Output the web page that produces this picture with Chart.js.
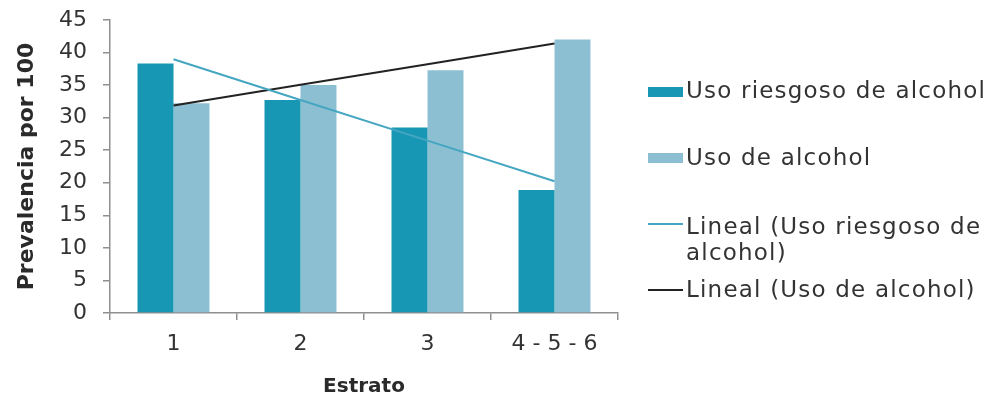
<!DOCTYPE html>
<html>
<head>
<meta charset="utf-8">
<title>Prevalencia por estrato</title>
<script src="https://cdn.jsdelivr.net/npm/chart.js@4.4.0/dist/chart.umd.min.js"></script>
<style>
  html, body { margin: 0; padding: 0; background: #fff; }
  body { width: 984px; height: 403px; overflow: hidden; position: relative;
         font-family: "DejaVu Sans", sans-serif; }
  #c { position: absolute; left: 0; top: 0; }
  .key { position: absolute; left: 648px; width: 35px; }
  .txt { position: absolute; left: 686px; font-size: 23px; line-height: 26px;
         letter-spacing: 1.2px; color: #333333; white-space: nowrap; }
</style>
</head>
<body>
<canvas id="c" width="984" height="403"></canvas>
<div id="legend"></div>
<script>
// Estratos socioeconómicos (eje X)
const categories = ['1', '2', '3', '4 - 5 - 6'];

// Prevalencia por 100 en cada estrato
const usoRiesgoso = [38.3, 32.7, 28.5, 18.9];
const usoAlcohol  = [32.2, 35.0, 37.3, 42.0];

// Marcas del eje Y
const yTicks = [0, 5, 10, 15, 20, 25, 30, 35, 40, 45];

const seriesLabels = ['Uso riesgoso de alcohol', 'Uso de alcohol'];
const trendLabels  = ['Lineal (Uso riesgoso de alcohol)', 'Lineal (Uso de alcohol)'];

// Línea de tendencia lineal (mínimos cuadrados) sobre las categorías 1..n
function linearTrend(values) {
  const n = values.length;
  const xs = values.map((_, i) => i + 1);
  const mx = xs.reduce((a, b) => a + b, 0) / n;
  const my = values.reduce((a, b) => a + b, 0) / n;
  let sxy = 0, sxx = 0;
  xs.forEach((x, i) => { sxy += (x - mx) * (values[i] - my); sxx += (x - mx) * (x - mx); });
  const slope = sxy / sxx;
  const intercept = my - slope * mx;
  return xs.map(x => intercept + slope * x);
}

const COLORS = {
  riesgoso: '#1897b5',
  alcohol: '#8dbfd2',
  trendRiesgoso: '#45a6c2',
  trendAlcohol: '#222222',
  axis: '#8f8f8f',
  text: '#333333'
};

Chart.defaults.font.family = "'DejaVu Sans', sans-serif";
Chart.defaults.color = COLORS.text;

const chart = new Chart(document.getElementById('c'), {
  type: 'bar',
  data: {
    labels: categories,
    datasets: [
      { label: seriesLabels[0], data: usoRiesgoso, backgroundColor: COLORS.riesgoso,
        categoryPercentage: 0.567, barPercentage: 1.0, order: 2 },
      { label: seriesLabels[1], data: usoAlcohol, backgroundColor: COLORS.alcohol,
        categoryPercentage: 0.567, barPercentage: 1.0, order: 2 },
      { type: 'line', label: trendLabels[0], data: linearTrend(usoRiesgoso),
        borderColor: COLORS.trendRiesgoso, borderWidth: 2, pointRadius: 0, fill: false, order: 1 },
      { type: 'line', label: trendLabels[1], data: linearTrend(usoAlcohol),
        borderColor: COLORS.trendAlcohol, borderWidth: 2, pointRadius: 0, fill: false, order: 1 }
    ]
  },
  options: {
    responsive: false,
    animation: false,
    layout: { padding: { top: 20, right: 366, bottom: 0, left: 0 } },
    plugins: { legend: { display: false }, tooltip: { enabled: false } },
    scales: {
      x: {
        offset: true,
        grid: { offset: true, drawOnChartArea: false, drawTicks: true, tickLength: 7,
                color: COLORS.axis, lineWidth: 1.5 },
        border: { color: COLORS.axis, width: 1.5 },
        ticks: { font: { size: 22 }, color: COLORS.text, padding: 11, maxRotation: 0 },
        title: { display: true, text: 'Estrato', color: '#2a2a2a',
                 font: { size: 20, weight: 'bold' }, padding: { top: 0, bottom: 4 } },
        afterFit(scale) { scale.height = 90; scale.paddingLeft = 0; scale.paddingRight = 0; }
      },
      y: {
        min: yTicks[0], max: yTicks[yTicks.length - 1],
        afterBuildTicks(scale) { scale.ticks = yTicks.map(v => ({ value: v })); },
        grid: { drawOnChartArea: false, drawTicks: true, tickLength: 7,
                color: COLORS.axis, lineWidth: 1.5 },
        border: { color: COLORS.axis, width: 1.5 },
        ticks: { font: { size: 22 }, color: COLORS.text, padding: 16 },
        title: { display: true, text: 'Prevalencia por 100', color: '#2a2a2a',
                 font: { size: 22, weight: 'bold' }, padding: { top: 14, bottom: 0 } },
        afterFit(scale) { scale.width = 110; scale.paddingTop = 0; scale.paddingBottom = 0; }
      }
    }
  }
});

// Leyenda a la derecha del gráfico
(function buildLegend() {
  const legend = document.getElementById('legend');
  const textTops = [77, 143.5, 212.5, 275.5];
  const keyCenters = [92, 158, 224, 290];
  const measure = document.createElement('canvas').getContext('2d');
  measure.font = "23px 'DejaVu Sans'";
  const textWidth = s => measure.measureText(s).width + s.length * 1.2;

  function wrap(text, maxWidth) {
    const words = text.split(' ');
    const lines = [];
    let line = '';
    words.forEach(w => {
      const test = line ? line + ' ' + w : w;
      if (line && textWidth(test) > maxWidth) { lines.push(line); line = w; }
      else line = test;
    });
    if (line) lines.push(line);
    return lines;
  }

  chart.data.datasets.forEach((ds, i) => {
    const isLine = ds.type === 'line';
    const key = document.createElement('div');
    key.className = 'key';
    const h = isLine ? 2 : 10;
    key.style.height = h + 'px';
    key.style.top = (keyCenters[i] - h / 2) + 'px';
    key.style.background = isLine ? ds.borderColor : ds.backgroundColor;
    legend.appendChild(key);

    const txt = document.createElement('div');
    txt.className = 'txt';
    txt.style.top = textTops[i] + 'px';
    const lines = isLine ? wrap(ds.label, 300) : [ds.label];
    lines.forEach((l, j) => {
      if (j) txt.appendChild(document.createElement('br'));
      txt.appendChild(document.createTextNode(l));
    });
    legend.appendChild(txt);
  });
})();
</script>
</body>
</html>
